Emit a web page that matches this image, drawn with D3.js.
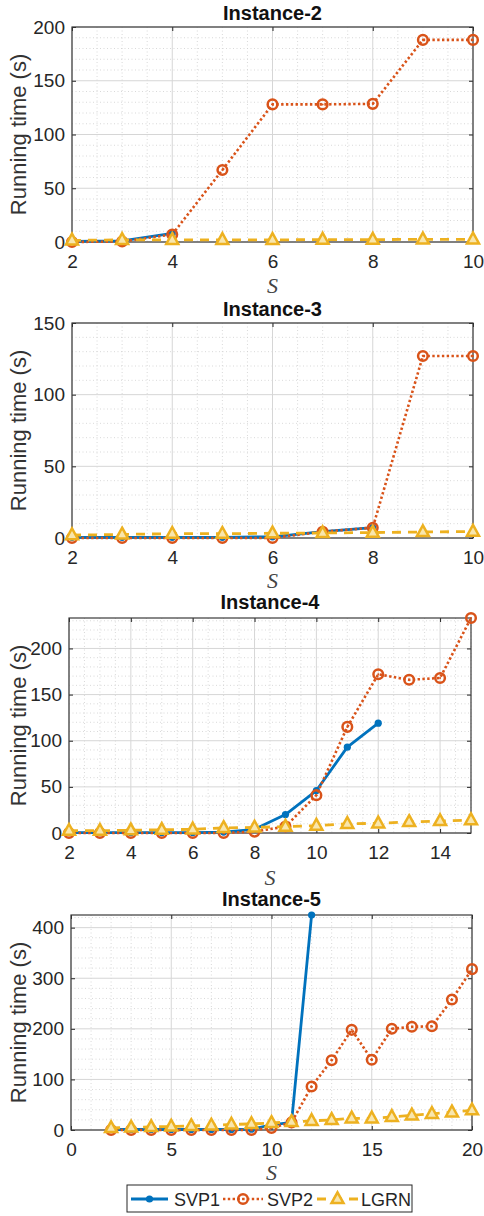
<!DOCTYPE html>
<html>
<head>
<meta charset="utf-8">
<script src="https://cdn.jsdelivr.net/npm/d3@7"></script>
<style>
  body { margin: 0; background: #fff; }
  svg { display: block; }
  text { font-family: "Liberation Sans", Arial, Helvetica, sans-serif; fill: #262626; }
</style>
</head>
<body>
<svg id="fig" width="484" height="1216"></svg>
<script>
// ---- data ----
var seriesNames = ['SVP1', 'SVP2', 'LGRN'];

var inst2S    = [2, 3, 4, 5, 6, 7, 8, 9, 10];
var inst2SVP1 = [0.5, 1, 8];
var inst2SVP2 = [0, 0.5, 7, 67, 128, 128, 128.5, 188, 188];
var inst2LGRN = [1.5, 2, 2, 2, 2, 2.2, 2.2, 2.5, 2.5];

var inst3S    = [2, 3, 4, 5, 6, 7, 8, 9, 10];
var inst3SVP1 = [0.5, 0.5, 0.5, 0.5, 0.8, 4.4, 7.2];
var inst3SVP2 = [0, 0, 0, 0, 0, 4.4, 7.2, 127, 127];
var inst3LGRN = [2, 2.5, 3, 3, 3.3, 3.5, 3.8, 4.2, 4.5];

var inst4S    = [2, 3, 4, 5, 6, 7, 8, 9, 10, 11, 12, 13, 14, 15];
var inst4SVP1 = [0.5, 0.5, 0.5, 0.5, 0.5, 1, 4, 20, 46, 93, 119];
var inst4SVP2 = [0, 0, 0, 0, 0, 0, 1.5, 7, 41, 115, 172, 166, 168, 233];
var inst4LGRN = [2.5, 2.5, 3, 3.5, 4, 5.5, 6, 7, 8, 10, 10.5, 12, 13, 14];

var inst5S    = [2, 3, 4, 5, 6, 7, 8, 9, 10, 11, 12, 13, 14, 15, 16, 17, 18, 19, 20];
var inst5SVP1 = [1, 1, 1, 1, 1, 1, 1, 1.5, 10, 15, 425];
var inst5SVP2 = [0, 0, 0, 0, 0, 0, 0, 0, 4, 15, 86, 138, 198, 139, 200, 204, 205, 258, 318];
var inst5LGRN = [4, 5, 6, 7, 8, 9, 11, 12, 14, 16, 18, 20, 23, 23, 26, 29, 32, 35, 39];

var titles  = ['Instance-2', 'Instance-3', 'Instance-4', 'Instance-5'];
var xDomains = [[2, 10], [2, 10], [2, 15], [0, 20]];
var xTickVals = [[2, 4, 6, 8, 10], [2, 4, 6, 8, 10], [2, 4, 6, 8, 10, 12, 14], [0, 5, 10, 15, 20]];
var yMaxes   = [200, 150, 233, 425];
var yTickVals = [[0, 50, 100, 150, 200], [0, 50, 100, 150], [0, 50, 100, 150, 200], [0, 100, 200, 300, 400]];
var xMinorSteps = [0.5, 0.5, 0.5, 1];
var yMinorSteps = [10, 10, 10, 20];

// ---- layout (pixels) ----
var layout = [
    { left: 72, right: 473, top: 27,  bottom: 242,  titleY: 20,  sY: 293 },
    { left: 72, right: 473, top: 323, bottom: 538,  titleY: 316, sY: 588 },
    { left: 69, right: 471, top: 618, bottom: 833,  titleY: 609, sY: 885 },
    { left: 71, right: 472, top: 915, bottom: 1130, titleY: 906, sY: 1180 }
];

var colors = { SVP1: '#0072BD', SVP2: '#D95319', LGRN: '#EDB120' };

var panels = [
    { s: inst2S, SVP1: inst2SVP1, SVP2: inst2SVP2, LGRN: inst2LGRN },
    { s: inst3S, SVP1: inst3SVP1, SVP2: inst3SVP2, LGRN: inst3LGRN },
    { s: inst4S, SVP1: inst4SVP1, SVP2: inst4SVP2, LGRN: inst4LGRN },
    { s: inst5S, SVP1: inst5SVP1, SVP2: inst5SVP2, LGRN: inst5LGRN }
];

var svg = d3.select('#fig');
svg.append('rect').attr('width', 484).attr('height', 1216).attr('fill', '#fff');

function triPath(size) {
    var h = size * 0.9;
    return 'M0,' + (-h * 0.62) + 'L' + (size / 2) + ',' + (h * 0.38) + 'L' + (-size / 2) + ',' + (h * 0.38) + 'Z';
}

function drawMarker(g, name, cx, cy) {
    if (name === 'SVP1') {
        g.append('circle').attr('cx', cx).attr('cy', cy).attr('r', 3.6).attr('fill', colors.SVP1);
    } else if (name === 'SVP2') {
        g.append('circle').attr('cx', cx).attr('cy', cy).attr('r', 4.8)
            .attr('fill', 'none').attr('stroke', colors.SVP2).attr('stroke-width', 2.5);
        g.append('circle').attr('cx', cx).attr('cy', cy).attr('r', 1).attr('fill', colors.SVP2);
    } else {
        g.append('path').attr('d', triPath(12)).attr('transform', 'translate(' + cx + ',' + cy + ')')
            .attr('fill', '#f8e6ad').attr('stroke', colors.LGRN).attr('stroke-width', 2.5)
            .attr('stroke-linejoin', 'miter');
    }
}

var lineStyles = {
    SVP1: { width: 2.8, dash: null },
    SVP2: { width: 2.6, dash: '2.4,2.4' },
    LGRN: { width: 2.8, dash: '9,7' }
};

function drawPanel(i) {
    var p = panels[i], L = layout[i];
    var x = d3.scaleLinear().domain(xDomains[i]).range([L.left, L.right]);
    var y = d3.scaleLinear().domain([0, yMaxes[i]]).range([L.bottom, L.top]);
    var g = svg.append('g');

    // Minor grid (dotted)
    var xMaj = xTickVals[i], yMaj = yTickVals[i];
    var xMinor = d3.range(xDomains[i][0], xDomains[i][1] + 1e-9, xMinorSteps[i])
        .filter(function(v) { return xMaj.indexOf(v) < 0; });
    var yMinor = d3.range(0, yMaxes[i] + 1e-9, yMinorSteps[i])
        .filter(function(v) { return yMaj.indexOf(v) < 0; });

    g.selectAll('.xminor').data(xMinor).enter().append('line')
        .attr('x1', function(d) { return x(d); }).attr('x2', function(d) { return x(d); })
        .attr('y1', L.top).attr('y2', L.bottom)
        .attr('stroke', '#cfcfcf').attr('stroke-width', 0.8).attr('stroke-dasharray', '1,2.5');
    g.selectAll('.yminor').data(yMinor).enter().append('line')
        .attr('x1', L.left).attr('x2', L.right)
        .attr('y1', function(d) { return y(d); }).attr('y2', function(d) { return y(d); })
        .attr('stroke', '#cfcfcf').attr('stroke-width', 0.8).attr('stroke-dasharray', '1,2.5');

    // Major grid
    g.selectAll('.xmaj').data(xMaj).enter().append('line')
        .attr('x1', function(d) { return x(d); }).attr('x2', function(d) { return x(d); })
        .attr('y1', L.top).attr('y2', L.bottom)
        .attr('stroke', '#d6d6d6').attr('stroke-width', 1);
    g.selectAll('.ymaj').data(yMaj).enter().append('line')
        .attr('x1', L.left).attr('x2', L.right)
        .attr('y1', function(d) { return y(d); }).attr('y2', function(d) { return y(d); })
        .attr('stroke', '#d6d6d6').attr('stroke-width', 1);

    // Axes (ticks inside)
    var xAxis = d3.axisBottom(x).tickValues(xMaj).tickSize(-4).tickPadding(13).tickFormat(d3.format('d'));
    var yAxis = d3.axisLeft(y).tickValues(yMaj).tickSize(-4).tickPadding(7).tickFormat(d3.format('d'));
    var xTop = d3.axisTop(x).tickValues(xMaj).tickSize(-4).tickFormat('');
    var yRight = d3.axisRight(y).tickValues(yMaj).tickSize(-4).tickFormat('');

    function styleAxis(sel) {
        sel.select('.domain').remove();
        sel.selectAll('line').attr('stroke', '#262626');
        sel.selectAll('text').style('font-size', '19px').attr('fill', '#333')
            .style('font-family', '"Liberation Sans", Arial, sans-serif');
    }
    g.append('g').attr('transform', 'translate(0,' + L.bottom + ')').call(xAxis).call(styleAxis);
    g.append('g').attr('transform', 'translate(' + L.left + ',0)').call(yAxis).call(styleAxis);
    g.append('g').attr('transform', 'translate(0,' + L.top + ')').call(xTop).call(styleAxis);
    g.append('g').attr('transform', 'translate(' + L.right + ',0)').call(yRight).call(styleAxis);

    // Box
    g.append('rect').attr('x', L.left).attr('y', L.top)
        .attr('width', L.right - L.left).attr('height', L.bottom - L.top)
        .attr('fill', 'none').attr('stroke', '#3a3a3a').attr('stroke-width', 1.2);

    // Series
    seriesNames.forEach(function(name) {
        var vals = p[name];
        var pts = vals.map(function(v, k) { return [p.s[k], v]; });
        var line = d3.line().x(function(d) { return x(d[0]); }).y(function(d) { return y(d[1]); });
        var st = lineStyles[name];
        var path = g.append('path').datum(pts).attr('d', line)
            .attr('fill', 'none').attr('stroke', colors[name]).attr('stroke-width', st.width)
            .attr('stroke-linejoin', 'round');
        if (st.dash) path.attr('stroke-dasharray', st.dash);
        pts.forEach(function(d) { drawMarker(g, name, x(d[0]), y(d[1])); });
    });

    // Title
    g.append('text').attr('x', (L.left + L.right) / 2).attr('y', L.titleY)
        .attr('text-anchor', 'middle').style('font-size', '20px').style('font-weight', 'bold')
        .style('fill', '#111').text(titles[i]);

    // Y label
    g.append('text')
        .attr('transform', 'translate(26,' + ((L.top + L.bottom) / 2) + ') rotate(-90)')
        .attr('text-anchor', 'middle').style('font-size', '22px').style('fill', '#333')
        .text('Running time (s)');

    // X label
    g.append('text').attr('x', (L.left + L.right) / 2).attr('y', L.sY)
        .attr('text-anchor', 'middle')
        .style('font-family', '"Liberation Serif", "Times New Roman", serif')
        .style('font-style', 'italic').style('font-size', '22px').style('fill', '#444').text('S');
}

for (var i = 0; i < panels.length; i++) drawPanel(i);

// Legend
var leg = svg.append('g');
leg.append('rect').attr('x', 127).attr('y', 1185).attr('width', 285).attr('height', 27)
    .attr('fill', '#fff').attr('stroke', '#262626').attr('stroke-width', 1);
var legItems = [
    { name: 'SVP1', x1: 131, x2: 168, tx: 174 },
    { name: 'SVP2', x1: 223, x2: 263, tx: 267 },
    { name: 'LGRN', x1: 317, x2: 358, tx: 361 }
];
legItems.forEach(function(it) {
    var st = lineStyles[it.name];
    var ln = leg.append('line').attr('x1', it.x1).attr('x2', it.x2).attr('y1', 1199).attr('y2', 1199)
        .attr('stroke', colors[it.name]).attr('stroke-width', st.width);
    if (st.dash) ln.attr('stroke-dasharray', st.dash);
    drawMarker(leg, it.name, (it.x1 + it.x2) / 2, 1199);
    leg.append('text').attr('x', it.tx).attr('y', 1206).style('font-size', '18px').text(it.name);
});
</script>
</body>
</html>
